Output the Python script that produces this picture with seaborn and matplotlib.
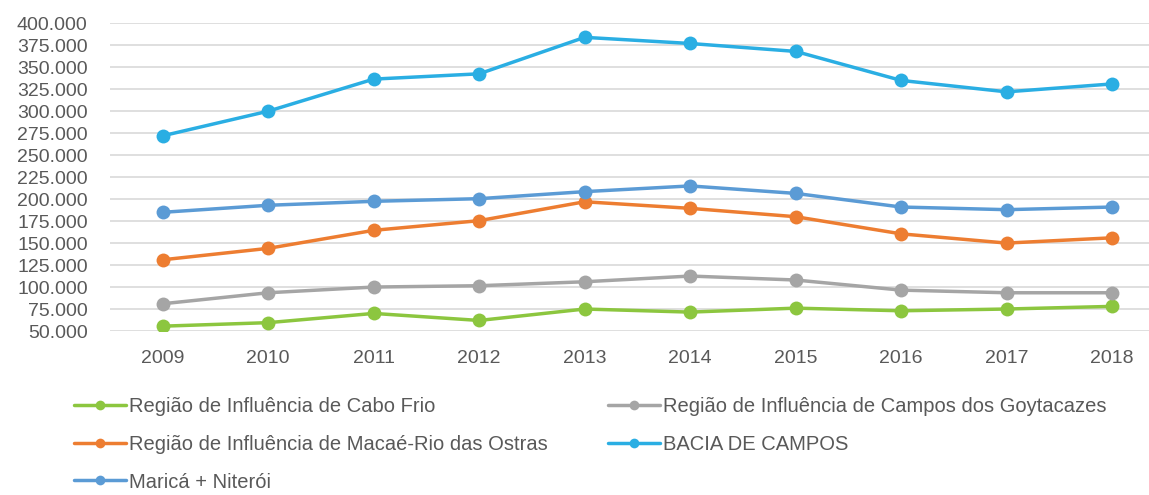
import matplotlib
matplotlib.use("Agg")
import matplotlib.pyplot as plt
from matplotlib.ticker import FuncFormatter
import seaborn as sns
import pandas as pd

years = [2009, 2010, 2011, 2012, 2013, 2014, 2015, 2016, 2017, 2018]

cabo_frio = [55500, 59500, 70000, 62000, 75000, 71500, 76000, 73000, 75000, 78000]
campos = [81000, 93500, 100000, 101500, 106000, 112500, 108000, 96500, 93500, 93500]
macae = [131000, 144000, 164500, 175500, 197000, 189500, 180000, 160500, 150000, 156000]
bacia = [272000, 300000, 336500, 342500, 384000, 377000, 368000, 335000, 322000, 331000]
marica = [185000, 193000, 197500, 200500, 208500, 215000, 206500, 191000, 188000, 191000]

series_names = [
    "Região de Influência de Cabo Frio",
    "Região de Influência de Campos dos Goytacazes",
    "Região de Influência de Macaé-Rio das Ostras",
    "BACIA DE CAMPOS",
    "Maricá + Niterói",
]
series_values = [cabo_frio, campos, macae, bacia, marica]
colors = ["#8CC63F", "#A5A5A5", "#ED7D31", "#2AAEE3", "#5B9BD5"]

rows = []
for name, vals in zip(series_names, series_values):
    for y, v in zip(years, vals):
        rows.append({"ano": y, "valor": v, "serie": name})
df = pd.DataFrame(rows)

sns.set_style("white")
plt.rcParams["font.family"] = ["Liberation Sans", "DejaVu Sans"]

fig = plt.figure(figsize=(11.49, 4.95), dpi=100)
ax = fig.add_axes([0.0957, 0.3313, 0.9043, 0.6217])

sns.lineplot(data=df, x="ano", y="valor", hue="serie", hue_order=series_names,
             palette=colors, marker="o", markersize=10, markeredgewidth=0,
             linewidth=2.5, ax=ax)

ax.set_ylim(50000, 400000)
ax.set_yticks(range(50000, 400001, 25000))
ax.yaxis.set_major_formatter(FuncFormatter(lambda v, p: f"{int(v):,}".replace(",", ".")))
ax.set_xlim(2008.5, 2018.35)
ax.set_xticks(years)
ax.grid(axis="y", color="#D9D9D9", linewidth=1.2)
ax.set_axisbelow(True)
for s in ax.spines.values():
    s.set_visible(False)
ax.tick_params(axis="both", length=0, labelsize=14, labelcolor="#595959")
ax.tick_params(axis="x", pad=14)
ax.tick_params(axis="y", pad=16)
ax.set_xlabel("")
ax.set_ylabel("")

handles, labels = ax.get_legend_handles_labels()
ax.get_legend().remove()
order = [0, 2, 4, 1, 3]
fig.legend([handles[i] for i in order], [labels[i] for i in order],
           loc="upper left", bbox_to_anchor=(0.064, 0.197), ncol=2,
           frameon=False, fontsize=14.5, labelcolor="#595959", markerscale=0.7,
           handlelength=2.6, handletextpad=0.15, columnspacing=3.0,
           labelspacing=0.92, borderaxespad=0, borderpad=0)

fig.savefig("out.png", dpi=100)
